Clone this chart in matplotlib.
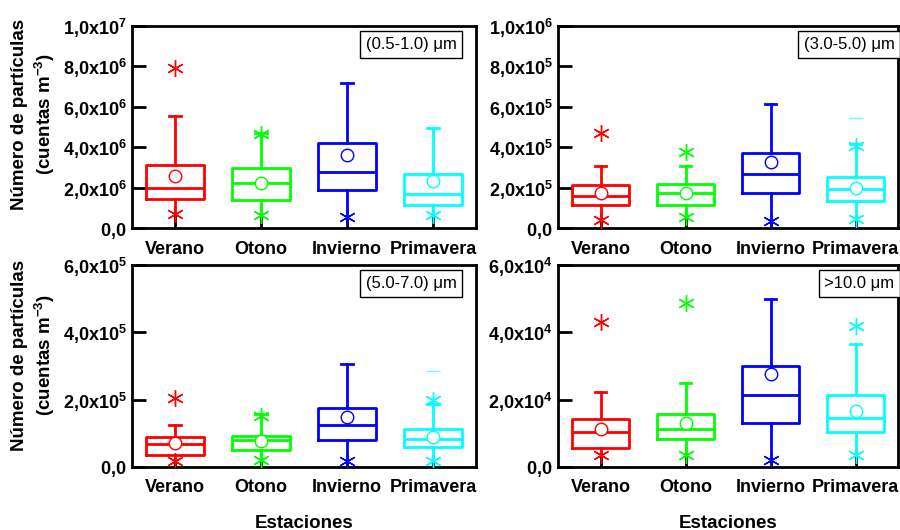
import numpy as np
import matplotlib
matplotlib.use("Agg")
import matplotlib.pyplot as plt

plt.rcParams['font.family'] = ['Liberation Sans', 'DejaVu Sans']
plt.rcParams['mathtext.fontset'] = 'custom'
plt.rcParams['mathtext.rm'] = 'Liberation Sans'
plt.rcParams['mathtext.bf'] = 'Liberation Sans:bold'

estaciones = ['Verano', 'Otono', 'Invierno', 'Primavera']
colores = ['#ff0000', '#00ff00', '#0000ff', '#00ffff']

# rangos de tamano
rangos = ['(0.5-1.0) μm', '(3.0-5.0) μm', '(5.0-7.0) μm', '>10.0 μm']

# cuartiles, mediana, media, bigote superior, percentiles extremos y maximo
q1_05 = [1.44e6, 1.39e6, 1.88e6, 1.14e6]
med_05 = [2.00e6, 2.21e6, 2.76e6, 1.68e6]
q3_05 = [3.12e6, 2.99e6, 4.19e6, 2.67e6]
media_05 = [2.57e6, 2.24e6, 3.61e6, 2.33e6]
sup_05 = [5.54e6, 4.70e6, 7.19e6, 4.97e6]
p99_05 = [7.90e6, 4.64e6, np.nan, np.nan]
p01_05 = [0.68e6, 0.64e6, 0.56e6, 0.64e6]
max_05 = [np.nan, np.nan, np.nan, np.nan]

q1_30 = [1.12e5, 1.15e5, 1.73e5, 1.32e5]
med_30 = [1.60e5, 1.73e5, 2.67e5, 1.93e5]
q3_30 = [2.11e5, 2.18e5, 3.71e5, 2.54e5]
media_30 = [1.73e5, 1.74e5, 3.26e5, 1.98e5]
sup_30 = [3.09e5, 3.09e5, 6.14e5, 4.15e5]
p99_30 = [4.70e5, 3.74e5, np.nan, 4.07e5]
p01_30 = [0.41e5, 0.54e5, 0.33e5, 0.45e5]
max_30 = [np.nan, np.nan, np.nan, 5.44e5]

q1_50 = [0.37e5, 0.50e5, 0.79e5, 0.60e5]
med_50 = [0.69e5, 0.81e5, 1.26e5, 0.82e5]
q3_50 = [0.89e5, 0.92e5, 1.74e5, 1.12e5]
media_50 = [0.70e5, 0.77e5, 1.47e5, 0.89e5]
sup_50 = [1.26e5, 1.56e5, 3.05e5, 1.87e5]
p99_50 = [2.05e5, 1.52e5, np.nan, 2.00e5]
p01_50 = [0.17e5, 0.22e5, 0.17e5, 0.17e5]
max_50 = [np.nan, np.nan, np.nan, 2.85e5]

q1_10 = [0.55e4, 0.82e4, 1.32e4, 1.04e4]
med_10 = [1.04e4, 1.14e4, 2.15e4, 1.46e4]
q3_10 = [1.42e4, 1.56e4, 3.00e4, 2.13e4]
media_10 = [1.14e4, 1.32e4, 2.76e4, 1.67e4]
sup_10 = [2.23e4, 2.48e4, 4.99e4, 3.65e4]
p99_10 = [4.32e4, 4.86e4, np.nan, 4.19e4]
p01_10 = [0.35e4, 0.35e4, 0.20e4, 0.35e4]
max_10 = [np.nan, np.nan, np.nan, np.nan]

minimo = [0.0, 0.0, 0.0, 0.0]

datos = [
    (q1_05, med_05, q3_05, media_05, sup_05, p99_05, p01_05, max_05),
    (q1_30, med_30, q3_30, media_30, sup_30, p99_30, p01_30, max_30),
    (q1_50, med_50, q3_50, media_50, sup_50, p99_50, p01_50, max_50),
    (q1_10, med_10, q3_10, media_10, sup_10, p99_10, p01_10, max_10),
]
ytop = [1.0e7, 1.0e6, 6.0e5, 6.0e4]
ypaso = [2.0e6, 2.0e5, 2.0e5, 2.0e4]

# posiciones de los ejes [izq, abajo, ancho, alto]
rect = [
    [0.1467, 0.5698, 0.3822, 0.3811],
    [0.6200, 0.5698, 0.3778, 0.3811],
    [0.1467, 0.1189, 0.3822, 0.3811],
    [0.6200, 0.1189, 0.3778, 0.3811],
]
caja_x = [0.943, 0.990, 0.943, 0.990]


def etiqueta(v):
    if v == 0:
        return r'$\mathbf{0{,}0}$'
    e = int(np.floor(np.log10(v) + 1e-9))
    m = v / 10 ** e
    return r'$\mathbf{%d{,}%dx10^{%d}}$' % (int(m), int(round(m * 10)) % 10, e)


fig = plt.figure(figsize=(9, 5.3), dpi=100)
pos = np.arange(1, 5)

for k in range(4):
    q1, med, q3, media, sup, p99, p01, mx = datos[k]
    ax = fig.add_axes(rect[k])
    stats = []
    for i in range(4):
        stats.append(dict(med=med[i], q1=q1[i], q3=q3[i], whislo=p01[i],
                          whishi=sup[i], mean=media[i], fliers=[]))
    bp = ax.bxp(stats, positions=pos, widths=0.68, showmeans=False,
                showfliers=False, capwidths=0.14, patch_artist=False)
    for i in range(4):
        c = colores[i]
        bp['boxes'][i].set(color=c, linewidth=2)
        bp['medians'][i].set(color=c, linewidth=2)
        bp['whiskers'][2 * i].set(color=c, linewidth=2)
        bp['whiskers'][2 * i + 1].set(color=c, linewidth=2)
        bp['caps'][2 * i].set_visible(False)
        bp['caps'][2 * i + 1].set(color=c, linewidth=2)
    ax.vlines(pos, minimo, p01, colors='k', linewidth=2, zorder=3)
    for i in range(4):
        c = colores[i]
        ax.plot(pos[i], p01[i], marker=(6, 2, 0), ms=12, color=c,
                mew=1.0, ls='none', zorder=5)
        ax.plot(pos[i], p99[i], marker=(6, 2, 0), ms=12, color=c,
                mew=1.0, ls='none', zorder=5)
        ax.plot(pos[i], mx[i], marker='_', ms=10, color=c, mew=1,
                alpha=0.6, ls='none', zorder=5)
        ax.plot(pos[i], media[i], marker='o', ms=9, mfc='white', mec=c,
                mew=1, ls='none', zorder=6)

    ax.set_xlim(0.5, 4.5)
    ax.set_ylim(0, ytop[k])
    yt = np.arange(0, ytop[k] * 1.001, ypaso[k])
    ax.set_yticks(yt)
    ax.set_yticklabels([etiqueta(v) for v in yt], fontsize=13)
    ax.set_xticks(pos)
    ax.set_xticklabels(estaciones, fontsize=13, fontweight='bold')
    ax.tick_params(axis='y', direction='in', length=10, width=2, pad=4,
                   right=False)
    ax.tick_params(axis='x', length=0, pad=9)
    for s in ax.spines.values():
        s.set_linewidth(2)
    ax.text(caja_x[k], 0.945, rangos[k], transform=ax.transAxes,
            ha='right', va='top', fontsize=12,
            bbox=dict(boxstyle='square,pad=0.35', fc='white', ec='black',
                      lw=1))
    if k >= 2:
        ax.set_xlabel('Estaciones', fontsize=13.5, fontweight='bold',
                      labelpad=13)

for yc in [0.785, 0.33]:
    fig.text(0.022, yc, 'Número de partículas', rotation=90, ha='center',
             va='center', fontsize=13.5, fontweight='bold')
    fig.text(0.05, yc, r'(cuentas m$\mathbf{^{-3}}$)', rotation=90,
             ha='center', va='center', fontsize=13.5, fontweight='bold')

fig.savefig('out.png', dpi=100)
